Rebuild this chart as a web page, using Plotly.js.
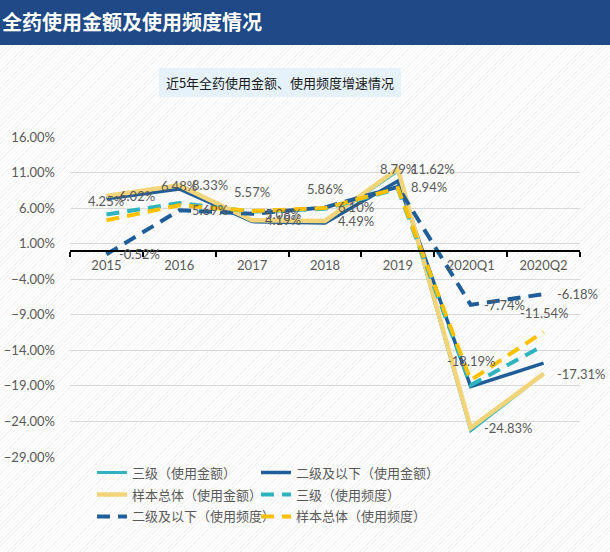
<!DOCTYPE html>
<html>
<head>
<meta charset="utf-8">
<script src="https://cdn.plot.ly/plotly-3.0.1.min.js"></script>
<style>
  html, body { margin: 0; padding: 0; }
  body {
    width: 610px; height: 552px; overflow: hidden; position: relative;
    background: repeating-linear-gradient(135deg, #ffffff 0px, #ffffff 2px, #f4f4f4 2px, #f4f4f4 3px);
    font-family: "Noto Sans CJK SC", sans-serif;
  }
  #header {
    position: absolute; left: 0; top: 0; width: 610px; height: 45px;
    background: #1f4a87; color: #ffffff; font-weight: bold; font-size: 20px;
    line-height: 44px; padding-left: 2px; box-sizing: border-box; z-index: 2;
    font-family: "Noto Sans CJK SC", sans-serif;
  }
  #subtitle {
    position: absolute; left: 159px; top: 68px; width: 242px; height: 29px;
    background: #e5f2fb; color: #1a1a1a; font-size: 13px; line-height: 29px;
    text-align: center; z-index: 2; font-family: "Noto Sans CJK SC", sans-serif;
  }
  #chart { position: absolute; left: 0; top: 0; width: 610px; height: 552px; z-index: 1; }
</style>
</head>
<body>
<div id="header">全药使用金额及使用频度情况</div>
<div id="subtitle">近5年全药使用金额、使用频度增速情况</div>
<div id="chart"></div>
<script>
// ---- data ----
const categories = ['2015', '2016', '2017', '2018', '2019', '2020Q1', '2020Q2'];
const seriesNames = ['三级（使用金额）', '二级及以下（使用金额）', '样本总体（使用金额）',
                     '三级（使用频度）', '二级及以下（使用频度）', '样本总体（使用频度）'];
const tertiaryAmount   = [7.5, 9.0, 4.2, 4.2, 11.2, -25.3, -17.3];
const secondaryAmount  = [7.3, 8.7, 4.1, 3.9, 9.8, -19.1, -15.8];
const totalAmount      = [7.7, 9.2, 4.3, 4.2, 11.5, -24.9, -17.3];
const tertiaryFreq     = [5.1, 6.7, 5.5, 5.9, 8.7, -18.9, -13.3];
const secondaryFreq    = [-0.5, 5.7, 5.2, 6.1, 9.0, -7.6, -6.1];
const totalFreq        = [4.3, 6.4, 5.6, 6.0, 8.8, -18.2, -11.4];
// data label texts (as printed on the chart)
const totalAmountLabels   = ['6.02%', '8.33%', '4.19%', '4.49%', '11.62%', '-24.83%', '-17.31%'];
const secondaryFreqLabels = ['-0.52%', '5.69%', '5.08%', '6.10%', '8.94%', '-7.74%', '-6.18%'];
const totalFreqLabels     = ['4.25%', '6.48%', '5.57%', '5.86%', '8.79%', '-18.19%', '-11.54%'];

// ---- styles ----
const TEAL = '#2fb4bf', BLUE = '#1f5e99', PALE = '#f3d478', GOLD = '#ffc000';
const TXT = '#595959';
const FONT = 'Lato, "Noto Sans CJK SC", sans-serif';
const DASH = '13px,8px';

function tr(name, y, color, width, dash, legendId, group) {
  return {
    type: 'scatter', mode: 'lines', x: categories, y: y, name: name,
    line: { color: color, width: width, dash: dash || 'solid' },
    legend: legendId, legendgroup: group, hoverinfo: 'skip'
  };
}

const data = [
  tr(seriesNames[0], tertiaryAmount, TEAL, 3, null, 'legend', 'g1'),
  tr(seriesNames[1], secondaryAmount, BLUE, 3.5, null, 'legend2', 'g2'),
  tr(seriesNames[2], totalAmount, PALE, 4.5, null, 'legend', 'g3'),
  tr(seriesNames[3], tertiaryFreq, TEAL, 4, DASH, 'legend2', 'g4'),
  tr(seriesNames[4], secondaryFreq, BLUE, 4, DASH, 'legend', 'g5'),
  tr(seriesNames[5], totalFreq, GOLD, 4, DASH, 'legend2', 'g6')
];

const annotations = [];
function addLabels(values, labels, place) {
  values.forEach((v, i) => {
    const a = {
      x: i, y: v, xref: 'x', yref: 'y', text: labels[i], showarrow: false,
      font: { family: FONT, size: 13, color: TXT }
    };
    if (place === 'right') { a.xanchor = 'left'; a.xshift = 11; a.yanchor = 'middle'; }
    else { a.xanchor = 'center'; a.yanchor = 'middle'; a.yshift = 19; }
    annotations.push(a);
  });
}
addLabels(totalAmount, totalAmountLabels, 'right');
addLabels(secondaryFreq, secondaryFreqLabels, 'right');
addLabels(totalFreq, totalFreqLabels, 'top');

const legendBase = {
  orientation: 'v', xanchor: 'left', yanchor: 'top', y: -0.002,
  bgcolor: 'rgba(0,0,0,0)', font: { family: FONT, size: 13, color: TXT },
  tracegroupgap: 2, itemwidth: 30, itemclick: false, itemdoubleclick: false
};

const layout = {
  width: 610, height: 552,
  margin: { l: 70, r: 30, t: 137, b: 95 },
  paper_bgcolor: 'rgba(0,0,0,0)', plot_bgcolor: 'rgba(0,0,0,0)',
  showlegend: true,
  legend: Object.assign({}, legendBase, { x: (92 - 70) / 510 }),
  legend2: Object.assign({}, legendBase, { x: (256 - 70) / 510 }),
  xaxis: {
    type: 'category', categoryorder: 'array', categoryarray: categories,
    range: [-0.5, 6.5], anchor: 'free', position: 29 / 45,
    showline: true, linecolor: '#000000', linewidth: 2,
    ticks: 'outside', ticklen: 5, tickwidth: 2, tickcolor: '#000000',
    tickson: 'boundaries', showgrid: false, zeroline: false, tickangle: 0,
    ticklabelstandoff: 3,
    tickfont: { family: FONT, size: 13, color: TXT }, fixedrange: true
  },
  yaxis: {
    range: [-29, 16], tick0: 1, dtick: 5, tickformat: '.2f', ticksuffix: '%',
    showgrid: true, gridcolor: '#d9d9d9', gridwidth: 1, zeroline: false,
    showline: false, ticks: '', ticklabelstandoff: 14,
    tickfont: { family: FONT, size: 13, color: TXT }, fixedrange: true
  },
  annotations: annotations
};

Plotly.newPlot('chart', data, layout, { displayModeBar: false, staticPlot: true });
</script>
</body>
</html>
